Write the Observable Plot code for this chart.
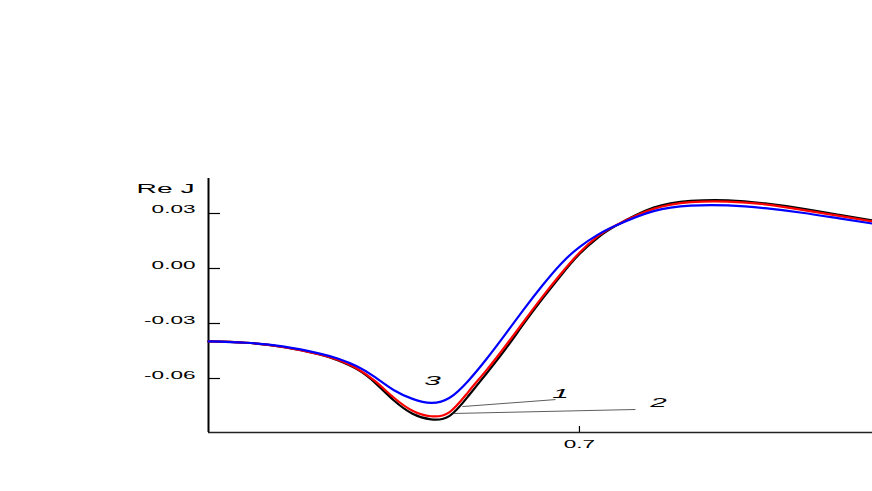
<!DOCTYPE html>
<html><head><meta charset="utf-8">
<script src="https://cdn.jsdelivr.net/npm/d3@7"></script>
<script src="https://cdn.jsdelivr.net/npm/@observablehq/plot@0.6"></script>
<style>body{margin:0;background:#fff;}</style>
</head><body><div id="chart"></div>
<script>
// x positions
const xValues = [0.50,0.52,0.54,0.56,0.57,0.58,0.59,0.60,0.61,0.62,0.63,0.64,0.65,0.66,0.67,0.68,0.69,0.70,0.71,0.72,0.74,0.76,0.78,0.80,0.82,0.84,0.858];
// curve 1 (red)
const curve1 = [-0.0398,-0.0405,-0.0428,-0.0468,-0.0499,-0.0545,-0.0616,-0.0705,-0.0776,-0.0806,-0.0783,-0.0674,-0.0553,-0.0424,-0.0289,-0.0155,-0.0029,0.0086,0.0176,0.0237,0.0325,0.0362,0.0365,0.0350,0.0320,0.0287,0.0256];
// curve 2 (black)
const curve2 = [-0.0398,-0.0405,-0.0428,-0.0469,-0.0502,-0.0549,-0.0625,-0.0720,-0.0792,-0.0823,-0.0804,-0.0697,-0.0571,-0.0441,-0.0301,-0.0166,-0.0038,0.0079,0.0169,0.0235,0.0332,0.0369,0.0372,0.0355,0.0327,0.0293,0.0262];
// curve 3 (blue)
const curve3 = [-0.0398,-0.0405,-0.0425,-0.0464,-0.0492,-0.0533,-0.0594,-0.0664,-0.0711,-0.0733,-0.0705,-0.0613,-0.0492,-0.0359,-0.0223,-0.0093,0.0025,0.0117,0.0185,0.0236,0.0313,0.0343,0.0344,0.0329,0.0304,0.0273,0.0245];

const seriesNames = ["2","1","3"];
const seriesColors = ["#000000","#ff0000","#0000ff"];
const seriesValues = [curve2, curve1, curve3];

const yTicks = [-0.06,-0.03,0,0.03];
const yTickLabels = ["-0.06","-0.03","0.00","0.03"];
const xTicks = [0.7];
const xTickLabels = ["0.7"];
const xDomain = [0.5, 0.858];
const yDomain = [-0.08945, 0.04909];
const yTitle = "Re J";

// curve number labels and their leader lines
const labelText = ["1","2","3"];
const labelX = [0.6898, 0.7426, 0.6208];
const labelY = [-0.0709, -0.0753, -0.0638];
const leaderText = ["1","2"];
const leaderX1 = [0.6369, 0.6315];
const leaderY1 = [-0.0753, -0.0791];
const leaderX2 = [0.6871, 0.7302];
const leaderY2 = [-0.0715, -0.0769];

const lineData = seriesNames.map((n, k) => xValues.map((x, i) => ({x, y: seriesValues[k][i], name: n})));
const labels = labelText.map((t, i) => ({t, x: labelX[i], y: labelY[i]}));
const leaders = leaderText.map((t, i) => ({x1: leaderX1[i], y1: leaderY1[i], x2: leaderX2[i], y2: leaderY2[i]}));

const plot = Plot.plot({
  width: 872, height: 491,
  marginLeft: 208, marginRight: 0, marginTop: 178, marginBottom: 59,
  x: {domain: xDomain, axis: null},
  y: {domain: yDomain, axis: null},
  style: {fontFamily: "'Liberation Sans', Arial, sans-serif", background: "white", color: "black"},
  marks: [
    Plot.ruleY([yDomain[0]], {stroke: "#222", strokeWidth: 1.5}),
    Plot.ruleX([xDomain[0]], {stroke: "#000", strokeWidth: 2}),
    Plot.axisY({ticks: yTicks, tickSize: -12, tickPadding: 25, tickFormat: d => yTickLabels[yTicks.indexOf(d)], fontSize: 10.5, strokeWidth: 1.2, label: null}),
    Plot.axisX({ticks: xTicks, tickSize: -6, tickPadding: 21, tickFormat: d => xTickLabels[xTicks.indexOf(d)], fontSize: 10.5, strokeWidth: 1.2, label: null}),
    Plot.text([yTitle], {frameAnchor: "top-left", dx: -14, dy: 14, textAnchor: "end", fontSize: 12}),
    ...lineData.map((d, k) => Plot.line(d, {x: "x", y: "y", stroke: seriesColors[k], strokeWidth: 2.2, curve: "natural"})),
    Plot.link(leaders, {x1: "x1", y1: "y1", x2: "x2", y2: "y2", stroke: "#333", strokeWidth: 0.8}),
    Plot.text(labels, {x: "x", y: "y", text: "t", fontSize: 13.5, fontStyle: "italic"})
  ]
});
document.getElementById("chart").appendChild(plot);

// the reference text is horizontally stretched
plot.querySelectorAll("text").forEach(t => {
  const s = t.textContent === yTitle ? 2.35 : (labelText.includes(t.textContent) ? 2.2 : 2.15);
  const x = +t.getAttribute("x") || 0, y = +t.getAttribute("y") || 0;
  t.removeAttribute("x"); t.removeAttribute("y");
  const tr = t.getAttribute("transform") || "";
  t.setAttribute("transform", `${tr} translate(${x},${y}) scale(${s},1)`);
});
</script>
</body></html>
